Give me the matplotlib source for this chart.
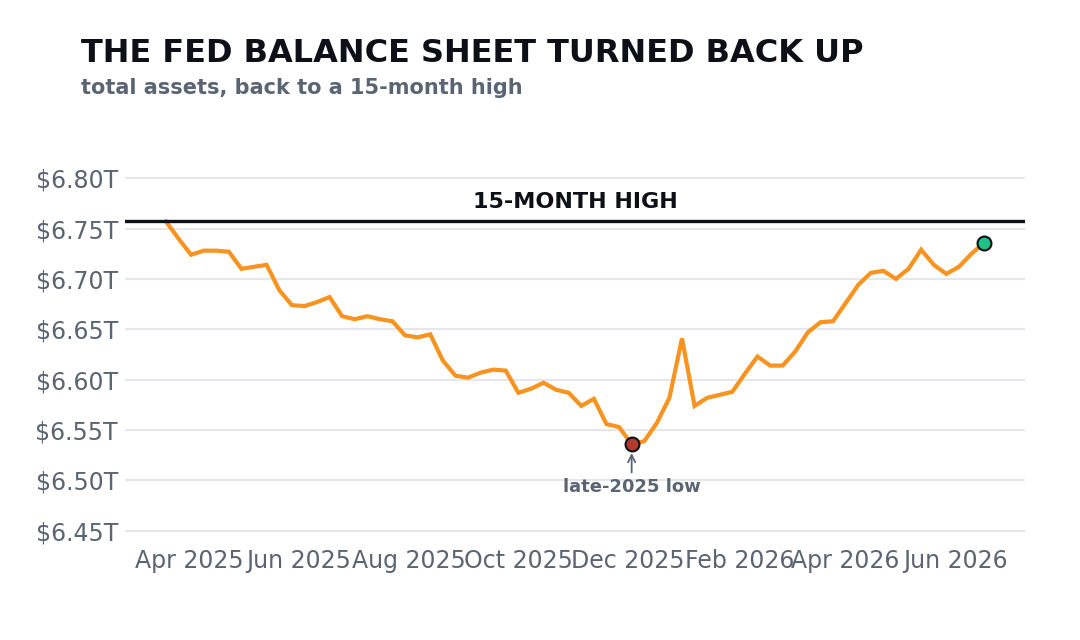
import numpy as np
import pandas as pd
import matplotlib
matplotlib.use("Agg")
import matplotlib.pyplot as plt
import matplotlib.dates as mdates
from matplotlib.ticker import FuncFormatter

# weekly total assets, $ trillions
start_date = "2025-03-19"
assets = [6.757, 6.740, 6.724, 6.728, 6.728, 6.727, 6.710, 6.712, 6.714, 6.689,
          6.674, 6.673, 6.677, 6.682, 6.663, 6.660, 6.663, 6.660, 6.658, 6.644,
          6.642, 6.645, 6.619, 6.604, 6.602, 6.607, 6.610, 6.609, 6.587, 6.591,
          6.597, 6.590, 6.587, 6.574, 6.581, 6.556, 6.553, 6.536, 6.539, 6.557,
          6.582, 6.641, 6.574, 6.582, 6.585, 6.588, 6.606, 6.623, 6.614, 6.614,
          6.628, 6.647, 6.657, 6.658, 6.676, 6.694, 6.706, 6.708, 6.700, 6.710,
          6.729, 6.714, 6.705, 6.712, 6.725, 6.736]
high_level = 6.757
high_label = "15-MONTH HIGH"
low_label = "late-2025 low"
title = "THE FED BALANCE SHEET TURNED BACK UP"
subtitle = "total assets, back to a 15-month high"

dates = pd.date_range(start_date, periods=len(assets), freq="7D")
vals = np.array(assets)
i_low = int(np.argmin(vals))

ORANGE = "#f7931e"
DARK = "#0d1117"
SLATE = "#5a6473"
GRID = "#e6e7eb"

fig = plt.figure(figsize=(10.8, 6.4), dpi=100)
ax = fig.add_axes([125/1080, 1 - 546/640, 900/1080, 383/640])

ax.plot(dates, vals, color=ORANGE, lw=3, solid_joinstyle="miter", zorder=3)
ax.axhline(high_level, color=DARK, lw=2.4, zorder=4)
ax.text(0.5, high_level + 0.0095, high_label, transform=ax.get_yaxis_transform(),
        ha="center", va="bottom", fontsize=16, fontweight="bold", color=DARK)

ax.plot(dates[i_low], vals[i_low], "o", ms=10, mfc="#b23a2e", mec=DARK, mew=1.5, zorder=5)
ax.plot(dates[-1], vals[-1], "o", ms=10, mfc="#1dc385", mec=DARK, mew=1.5, zorder=5)
ax.annotate(low_label, xy=(dates[i_low], vals[i_low] - 0.006),
            xytext=(dates[i_low], 6.4935), ha="center", va="center",
            fontsize=13, fontweight="bold", color=SLATE,
            arrowprops=dict(arrowstyle="->", color=SLATE, lw=1.3))

ax.set_ylim(6.435, 6.815)
ax.set_yticks(np.arange(6.45, 6.801, 0.05))
ax.yaxis.set_major_formatter(FuncFormatter(lambda v, p: f"${v:.2f}T"))
ax.xaxis.set_major_locator(mdates.MonthLocator(bymonth=[2, 4, 6, 8, 10, 12]))
ax.xaxis.set_major_formatter(mdates.DateFormatter("%b %Y"))
ax.margins(x=0.05)

ax.grid(axis="y", color=GRID, lw=1.5, zorder=0)
for s in ax.spines.values():
    s.set_visible(False)
ax.tick_params(length=0, labelsize=17, labelcolor=SLATE)
ax.tick_params(axis="y", pad=5)
ax.tick_params(axis="x", pad=2)

fig.text(81/1080, 1 - 54/640, title, fontsize=23, fontweight="bold", color=DARK, va="center")
fig.text(81/1080, 1 - 88/640, subtitle, fontsize=15, fontweight="bold", color=SLATE, va="center")

fig.savefig("out.png", dpi=100, facecolor="white")
